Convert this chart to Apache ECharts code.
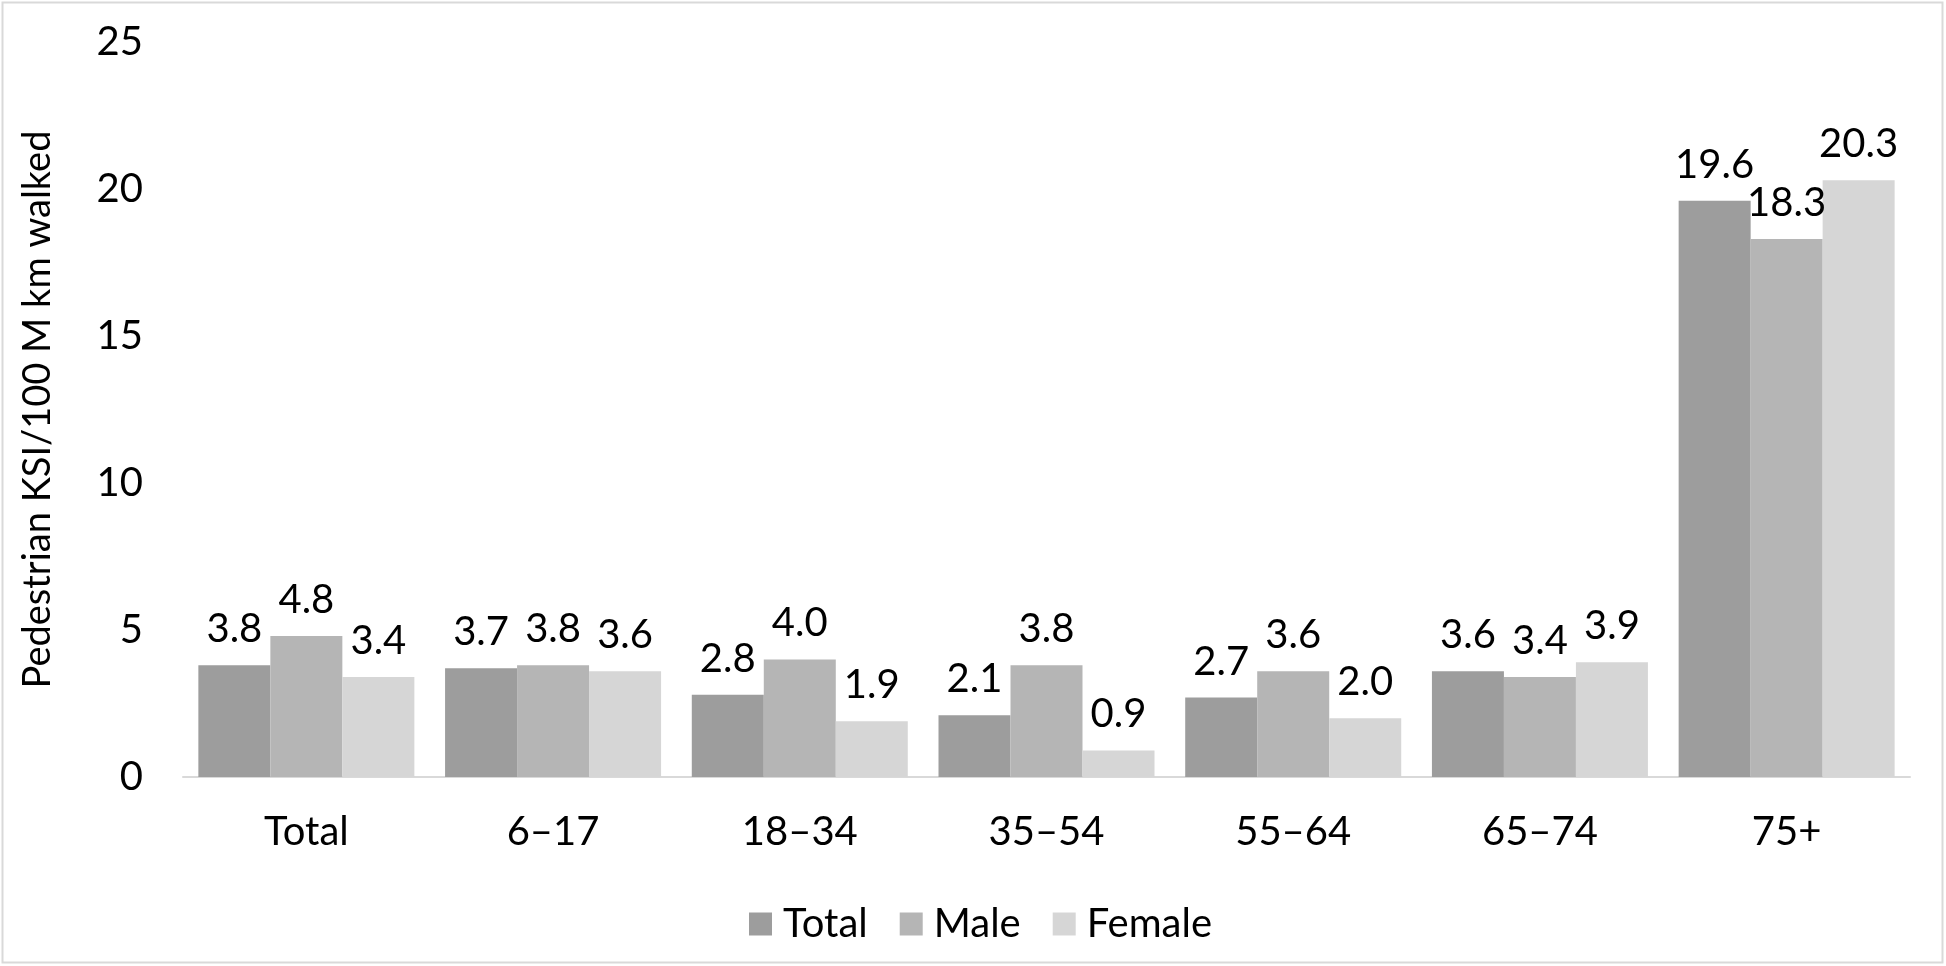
<!DOCTYPE html>
<html>
<head>
<meta charset="utf-8">
<script src="https://cdn.jsdelivr.net/npm/echarts@6/dist/echarts.min.js"></script>
<style>html,body{margin:0;padding:0;background:#fff;}#c{width:1946px;height:966px;}</style>
</head>
<body>
<div id="c"></div>
<script>
var categories = ['Total', '6–17', '18–34', '35–54', '55–64', '65–74', '75+'];
var totalValues = [3.8, 3.7, 2.8, 2.1, 2.7, 3.6, 19.6];
var maleValues = [4.8, 3.8, 4.0, 3.8, 3.6, 3.4, 18.3];
var femaleValues = [3.4, 3.6, 1.9, 0.9, 2.0, 3.9, 20.3];
var seriesNames = ['Total', 'Male', 'Female'];
var yTitle = 'Pedestrian KSI/100 M km walked';

var FONT = 'Lato';
var chart = echarts.init(document.getElementById('c'));
function mk(name, data, color) {
  return {
    name: name, type: 'bar', data: data, barWidth: 72, barGap: '0%',
    itemStyle: { color: color },
    label: { show: true, position: 'top', distance: 16, color: '#000', fontFamily: FONT, fontSize: 40,
      formatter: function (p) { return p.value.toFixed(1); } }
  };
}
chart.setOption({
  backgroundColor: '#fff',
  animation: false,
  graphic: [{ type: 'rect', shape: { x: 2.5, y: 2.5, width: 1940, height: 960 }, style: { fill: 'none', stroke: '#d9d9d9', lineWidth: 2 }, silent: true }],
  grid: { left: 183, right: 36, top: 42, bottom: 189 },
  legend: {
    data: seriesNames, left: 744, top: 899, itemWidth: 23, itemHeight: 23, itemGap: 32,
    icon: 'rect',
    textStyle: { fontFamily: FONT, fontSize: 40, color: '#000', padding: [0, 0, 0, 6] }
  },
  xAxis: {
    type: 'category', data: categories,
    axisLine: { lineStyle: { color: '#d9d9d9', width: 2 } },
    axisTick: { show: false },
    axisLabel: { color: '#000', fontFamily: FONT, fontSize: 40, margin: 35 }
  },
  yAxis: {
    type: 'value', min: 0, max: 25, interval: 5,
    name: yTitle, nameLocation: 'middle', nameRotate: 90, nameGap: 126,
    nameTextStyle: { color: '#000', fontFamily: FONT, fontSize: 38 },
    axisLine: { show: false }, axisTick: { show: false },
    splitLine: { show: false },
    axisLabel: { color: '#000', fontFamily: FONT, fontSize: 40, margin: 40 }
  },
  series: [
    mk(seriesNames[0], totalValues, '#9d9d9d'),
    mk(seriesNames[1], maleValues, '#b5b5b5'),
    mk(seriesNames[2], femaleValues, '#d6d6d6')
  ]
});
</script>
</body>
</html>
